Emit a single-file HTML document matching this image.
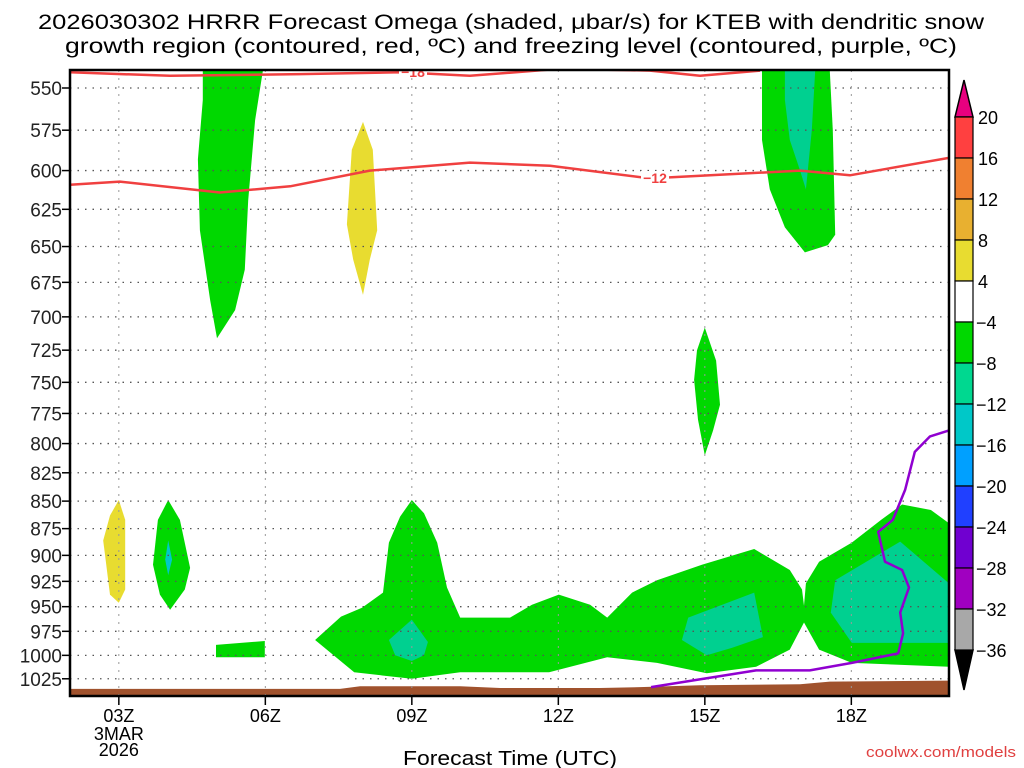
<!DOCTYPE html>
<html><head><meta charset="utf-8"><style>
body{margin:0;background:#fff;width:1024px;height:768px;overflow:hidden}
svg{display:block;font-family:"Liberation Sans","DejaVu Sans",sans-serif}
</style></head><body>
<svg id="chart" width="1024" height="768">
<text x="511" y="29" font-size="21" text-anchor="middle" textLength="946" lengthAdjust="spacingAndGlyphs">2026030302 HRRR Forecast Omega (shaded, μbar/s) for KTEB with dendritic snow</text>
<text x="511" y="53" font-size="21" text-anchor="middle" textLength="892" lengthAdjust="spacingAndGlyphs">growth region (contoured, red, ºC) and freezing level (contoured, purple, ºC)</text>
<g id="plot"></g>
<text x="510" y="765" font-size="20" text-anchor="middle" textLength="214" lengthAdjust="spacingAndGlyphs">Forecast Time (UTC)</text>
<text x="1016" y="757" font-size="15" fill="#e04040" text-anchor="end" textLength="150" lengthAdjust="spacingAndGlyphs">coolwx.com/models</text>
<g id="cbar"></g>
</svg>
<script>
const NS="http://www.w3.org/2000/svg";
// axes
const hourMin=2,hourMax=20,X0=70,X1=949;
const pRef=550,yRef=88,pxPerLn=949;
function xs(h){return X0+(h-hourMin)*(X1-X0)/(hourMax-hourMin);}
function ys(p){return yRef+Math.log(p/pRef)*pxPerLn;}
function hx(x){return hourMin+(x-X0)*(hourMax-hourMin)/(X1-X0);}
function py(y){return pRef*Math.exp((y-yRef)/pxPerLn);}
const pLevels=[550,575,600,625,650,675,700,725,750,775,800,825,850,875,900,925,950,975,1000,1025];
const xTickHours=[3,6,9,12,15,18];
const xTickLabels=["03Z","06Z","09Z","12Z","15Z","18Z"];
// shapes, as [hour, hPa]
function P(pts){return pts.map(a=>[+hx(a[0]).toFixed(2),+py(a[1]).toFixed(0)]);}
const greenBig=P([[315,640],[341,617],[362,608],[383,593],[389,543],[400,517],[412,500],[424,513],[437,543],[447,587],[460,618],[510,618],[532,605],[559,595],[590,605],[607,618],[632,593],[657,580],[702,565],[754,549],[790,570],[802,590],[804,606],[806,583],[819,562],[852,543],[881,520],[902,505],[931,510],[949,523],[949,667],[852,663],[819,650],[804,623],[790,650],[756,667],[707,673],[657,663],[607,657],[549,672],[460,672],[412,679],[354,672]]);
const tealA=P([[389,640],[412,620],[428,642],[424,655],[412,661],[395,655]]);
const tealB=P([[688,618],[754,593],[763,637],[732,648],[707,655],[682,640]]);
const tealC=P([[835,580],[900,542],[949,583],[949,643],[852,643],[831,613]]);
const yellowA=P([[119,500],[125,520],[125,590],[119,603],[110,595],[103,540],[110,515]]);
const greenA=P([[168,500],[180,520],[190,568],[185,590],[170,610],[160,595],[153,565],[158,520]]);
const tealD=P([[168,540],[172,560],[168,575],[165,560]]);
const greenRect=P([[216,645],[265,641],[265,657],[216,657]]);
const greenTop=P([[203,70],[263,70],[255,120],[248,200],[245,270],[235,310],[217,338],[210,300],[200,230],[198,160],[203,100]]);
const yellowB=P([[363,122],[373,150],[377,230],[370,260],[363,295],[353,260],[347,225],[352,150]]);
const greenMid=P([[705,328],[716,360],[720,405],[713,430],[705,455],[698,420],[694,380],[697,350]]);
const greenTR=P([[762,70],[830,70],[833,130],[835,235],[828,245],[805,252],[785,228],[770,190],[762,140]]);
const tealTR=P([[785,70],[815,70],[812,130],[806,190],[800,170],[790,140],[785,100]]);
const redM18=P([[70,72],[170,76],[300,74],[400,72],[470,76],[560,68],[650,70],[700,75],[760,70]]);
const redM12=P([[70,185],[120,182],[220,192],[290,187],[370,171],[470,162],[550,166],[650,178],[800,171],[850,175],[949,158]]);
const freezing=P([[651,687],[756,670],[810,670],[852,663],[898,653],[903,633],[900,613],[909,588],[902,570],[885,562],[878,532],[893,520],[905,490],[915,452],[930,437],[949,430]]);
const terrain=P([[70,689],[340,689],[360,686],[460,686],[500,688],[600,688],[640,687],[700,685],[800,684],[830,682],[949,681]]);

const plot=document.getElementById('plot');
function el(tag,attrs,parent){const e=document.createElementNS(NS,tag);for(const k in attrs)e.setAttribute(k,attrs[k]);(parent||plot).appendChild(e);return e;}
const clip=el('clipPath',{id:'pc'});el('rect',{x:X0,y:70,width:X1-X0,height:626},clip);
const g=el('g',{'clip-path':'url(#pc)'});
function ptsStr(a){return a.map(d=>xs(d[0]).toFixed(1)+','+ys(d[1]).toFixed(1)).join(' ');}
function poly(a,fill,name){const e=el('polygon',{points:ptsStr(a),fill:fill},g);

}
function line(a,stroke,w,name){const e=el('polyline',{points:ptsStr(a),fill:'none',stroke:stroke,'stroke-width':w,'stroke-linejoin':'round'},g);

}
const G="#00d800",T="#00d090",Y="#e8dc30";
poly(greenBig,G,'omega-green-low');poly(tealA,T,'omega-teal-a');poly(tealB,T,'omega-teal-b');poly(tealC,T,'omega-teal-c');
poly(yellowA,Y,'omega-yellow-a');poly(greenA,G,'omega-green-a');poly(tealD,"#00c8c8",'omega-teal-d');poly(greenRect,G,'omega-green-rect');
poly(greenTop,G,'omega-green-top');poly(yellowB,Y,'omega-yellow-b');poly(greenMid,G,'omega-green-mid');poly(greenTR,G,'omega-green-topright');poly(tealTR,T,'omega-teal-topright');
const terr=terrain.concat([[hourMax,1100],[hourMin,1100]]);poly(terr,"#a0522d",'terrain');
pLevels.forEach(p=>{const l=el('line',{x1:X0,x2:X1,y1:ys(p),y2:ys(p),stroke:'#555','stroke-width':1.3,'stroke-dasharray':'1.5 6'},g);

});
xTickHours.forEach(h=>{const l=el('line',{x1:xs(h),x2:xs(h),y1:70,y2:696,stroke:'#999','stroke-width':1,'stroke-dasharray':'2 6'},g);

});
line(redM18,'#f04040',2.5,'contour-minus18');line(redM12,'#f04040',2.5,'contour-minus12');
line(freezing,'#9000d0',2.5,'freezing-level');
function clabel(t,h,p,name){const x=xs(h),y=ys(p);el('rect',{x:x-14,y:y-7,width:28,height:13,fill:'#fff'},g);
const e=el('text',{x:x,y:y+5,'font-size':14,'font-weight':'bold',fill:'#f04040','text-anchor':'middle'},g);e.textContent=t;

}
clabel('−18',hx(413),py(72),'contour-label-minus18');clabel('−12',hx(655),py(178),'contour-label-minus12');
el('rect',{x:X0,y:70,width:X1-X0,height:626,fill:'none',stroke:'#000','stroke-width':2.5});
pLevels.forEach(p=>{el('line',{x1:X0-8,x2:X0,y1:ys(p),y2:ys(p),stroke:'#000','stroke-width':1.5});
const t=el('text',{x:62,y:ys(p)+7,'font-size':19,'text-anchor':'end',fill:'#222'});t.textContent=p;

});
xTickHours.forEach((h,i)=>{el('line',{x1:xs(h),x2:xs(h),y1:696,y2:705,stroke:'#000','stroke-width':1.5});
const t=el('text',{x:xs(h),y:722,'font-size':18,'text-anchor':'middle'});t.textContent=xTickLabels[i];

});
[['3MAR',740],['2026',756]].forEach(a=>{const t=el('text',{x:xs(3),y:a[1],'font-size':18,'text-anchor':'middle'});t.textContent=a[0];

});
// colorbar
const cbLabels=["20","16","12","8","4","−4","−8","−12","−16","−20","−24","−28","−32","−36"];
const cbColors=["#ff4040","#f08030","#e8b030","#e8dc30","#ffffff","#00d800","#00d890","#00c8c8","#00a0ff","#2040ff","#7000d0","#a000c0","#a8a8a8"];
const cb=document.getElementById('cbar');const cx=955,cw=18,cTop=117,cStep=(650-117)/13;
el('polygon',{points:`${cx},${cTop} ${cx+cw},${cTop} ${cx+cw/2},80`,fill:'#e8007f',stroke:'#000','stroke-width':1.5},cb);
el('polygon',{points:`${cx},650 ${cx+cw},650 ${cx+cw/2},690`,fill:'#000',stroke:'#000','stroke-width':1.5},cb);
cbColors.forEach((c,i)=>{const r=el('rect',{x:cx,y:cTop+i*cStep,width:cw,height:cStep,fill:c,stroke:'#000','stroke-width':1.2},cb);

});
cbLabels.forEach((l,i)=>{const t=el('text',{x:l[0]=='−'?976:978,y:cTop+i*cStep+7,'font-size':18},cb);t.textContent=l;

});
</script>
</body></html>
